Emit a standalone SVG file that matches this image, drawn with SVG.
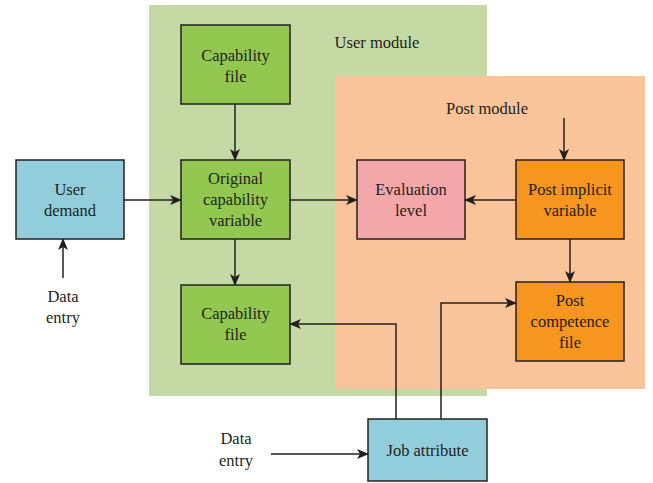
<svg xmlns="http://www.w3.org/2000/svg" width="653" height="483" viewBox="0 0 653 483">
<defs>
<marker id="arr" markerWidth="12" markerHeight="10" refX="11" refY="5" orient="auto" markerUnits="userSpaceOnUse">
<path d="M0,0 L12,5 L0,10 L3,5 Z" fill="#231f20"/>
</marker>
<style>
text{font-family:"Liberation Serif","Times New Roman",Times,"Noto Serif","DejaVu Serif",serif;font-size:16.5px;fill:#231f20;text-anchor:middle}
.box{stroke:#231f20;stroke-width:1.5}
.g{fill:#92c84f}.b{fill:#92cddc}.p{fill:#f4a7ab}.o{fill:#f6961e}
.ln{fill:none;stroke:#231f20;stroke-width:1.5}
</style>
</defs>
<rect width="653" height="483" fill="#fff"/>
<g id="user-module">
<rect x="149" y="5" width="338" height="391" fill="#c5d9a4"/>
<text x="377" y="48">User module</text>
</g>
<g id="post-module">
<rect x="335" y="76" width="310" height="313" fill="#f9c499"/>
<text x="487" y="114">Post module</text>
</g>
<g id="connectors">
<path class="ln" d="M235,104 V160" marker-end="url(#arr)"/>
<path class="ln" d="M235,239 V285" marker-end="url(#arr)"/>
<path class="ln" d="M124,200 H181" marker-end="url(#arr)"/>
<path class="ln" d="M63,278 V239" marker-end="url(#arr)"/>
<path class="ln" d="M290,200 H357" marker-end="url(#arr)"/>
<path class="ln" d="M516,200 H465" marker-end="url(#arr)"/>
<path class="ln" d="M564,118 V160" marker-end="url(#arr)"/>
<path class="ln" d="M570,239 V282" marker-end="url(#arr)"/>
<path class="ln" d="M441,419 V303 H516" marker-end="url(#arr)"/>
<path class="ln" d="M396,419 V324 H290" marker-end="url(#arr)"/>
<path class="ln" d="M271,454 H368" marker-end="url(#arr)"/>
</g>
<g id="capability-file-top">
<rect class="box g" x="181" y="25" width="109" height="79"/>
<text x="235.5" y="61">Capability</text>
<text x="235.5" y="82">file</text>
</g>
<g id="original-capability-variable">
<rect class="box g" x="181" y="160" width="109" height="79"/>
<text x="235.5" y="184">Original</text>
<text x="235.5" y="205">capability</text>
<text x="235.5" y="226">variable</text>
</g>
<g id="capability-file-bottom">
<rect class="box g" x="181" y="285" width="109" height="79"/>
<text x="235.5" y="319">Capability</text>
<text x="235.5" y="340">file</text>
</g>
<g id="user-demand">
<rect class="box b" x="16" y="160" width="108" height="79"/>
<text x="70" y="195">User</text>
<text x="70" y="216">demand</text>
</g>
<g id="data-entry-left">
<text x="63" y="302">Data</text>
<text x="63" y="323">entry</text>
</g>
<g id="evaluation-level">
<rect class="box p" x="357" y="160" width="108" height="79"/>
<text x="411" y="195">Evaluation</text>
<text x="411" y="216">level</text>
</g>
<g id="post-implicit-variable">
<rect class="box o" x="516" y="160" width="108" height="79"/>
<text x="570" y="195">Post implicit</text>
<text x="570" y="216">variable</text>
</g>
<g id="post-competence-file">
<rect class="box o" x="516" y="282" width="108" height="79"/>
<text x="570" y="306">Post</text>
<text x="570" y="327">competence</text>
<text x="570" y="348">file</text>
</g>
<g id="job-attribute">
<rect class="box b" x="368" y="419" width="119" height="62"/>
<text x="427.5" y="456">Job attribute</text>
</g>
<g id="data-entry-bottom">
<text x="236" y="444">Data</text>
<text x="236" y="466">entry</text>
</g>
</svg>
